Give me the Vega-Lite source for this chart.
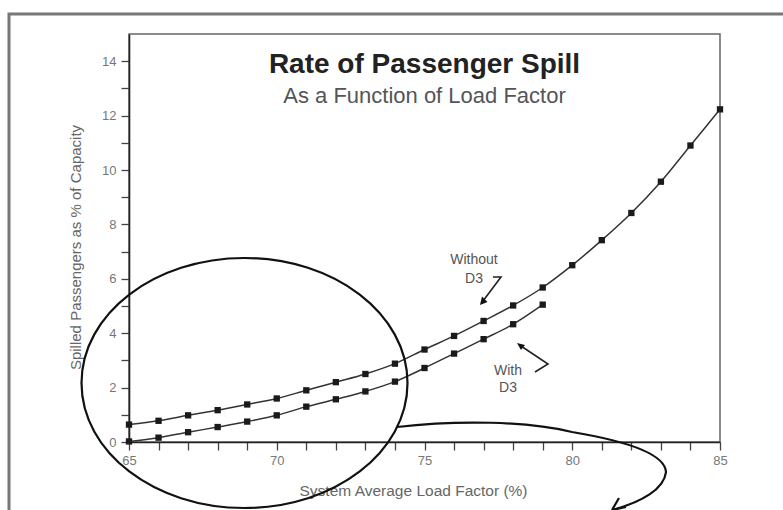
{
  "$schema": "https://vega.github.io/schema/vega-lite/v6.json",
  "width": 591,
  "height": 408,
  "autosize": {"type": "none"},
  "padding": {"left": 129, "top": 34, "right": 63, "bottom": 68},
  "background": "white",
  "config": {
    "view": {"stroke": "#666", "strokeWidth": 1.5},
    "font": "Liberation Sans"
  },
  "datasets": {
    "spill": [
      {"lf": 65, "pct": 0.64, "series": "Without D3"},
      {"lf": 66, "pct": 0.78, "series": "Without D3"},
      {"lf": 67, "pct": 0.98, "series": "Without D3"},
      {"lf": 68, "pct": 1.17, "series": "Without D3"},
      {"lf": 69, "pct": 1.38, "series": "Without D3"},
      {"lf": 70, "pct": 1.6, "series": "Without D3"},
      {"lf": 71, "pct": 1.9, "series": "Without D3"},
      {"lf": 72, "pct": 2.2, "series": "Without D3"},
      {"lf": 73, "pct": 2.5, "series": "Without D3"},
      {"lf": 74, "pct": 2.88, "series": "Without D3"},
      {"lf": 75, "pct": 3.4, "series": "Without D3"},
      {"lf": 76, "pct": 3.9, "series": "Without D3"},
      {"lf": 77, "pct": 4.45, "series": "Without D3"},
      {"lf": 78, "pct": 5.02, "series": "Without D3"},
      {"lf": 79, "pct": 5.68, "series": "Without D3"},
      {"lf": 80, "pct": 6.5, "series": "Without D3"},
      {"lf": 81, "pct": 7.42, "series": "Without D3"},
      {"lf": 82, "pct": 8.42, "series": "Without D3"},
      {"lf": 83, "pct": 9.57, "series": "Without D3"},
      {"lf": 84, "pct": 10.9, "series": "Without D3"},
      {"lf": 85, "pct": 12.23, "series": "Without D3"},
      {"lf": 65, "pct": 0.02, "series": "With D3"},
      {"lf": 66, "pct": 0.16, "series": "With D3"},
      {"lf": 67, "pct": 0.36, "series": "With D3"},
      {"lf": 68, "pct": 0.55, "series": "With D3"},
      {"lf": 69, "pct": 0.75, "series": "With D3"},
      {"lf": 70, "pct": 0.98, "series": "With D3"},
      {"lf": 71, "pct": 1.3, "series": "With D3"},
      {"lf": 72, "pct": 1.57, "series": "With D3"},
      {"lf": 73, "pct": 1.86, "series": "With D3"},
      {"lf": 74, "pct": 2.22, "series": "With D3"},
      {"lf": 75, "pct": 2.72, "series": "With D3"},
      {"lf": 76, "pct": 3.25, "series": "With D3"},
      {"lf": 77, "pct": 3.78, "series": "With D3"},
      {"lf": 78, "pct": 4.33, "series": "With D3"},
      {"lf": 79, "pct": 5.05, "series": "With D3"}
    ],
    "notes": [
      {"id": "frame", "lf": 65, "pct": 0},
      {"id": "ellipse", "lf": 68.909, "pct": 2.169},
      {"id": "loop", "lf": 74.069, "pct": 0.551},
      {"id": "arrowWithout", "lf": 76.878, "pct": 5.037},
      {"id": "arrowWith", "lf": 78.13, "pct": 3.64}
    ],
    "texts": [
      {"id": "title", "lf": 75, "pct": 13.55, "text": "Rate of Passenger Spill"},
      {"id": "subtitle", "lf": 75, "pct": 12.46, "text": "As a Function of Load Factor"},
      {"id": "label", "lf": 76.675, "pct": 6.544, "text": "Without"},
      {"id": "label", "lf": 76.675, "pct": 5.85, "text": "D3"},
      {"id": "label", "lf": 77.826, "pct": 2.463, "text": "With"},
      {"id": "label", "lf": 77.826, "pct": 1.84, "text": "D3"}
    ]
  },
  "encoding": {
    "x": {
      "field": "lf",
      "type": "quantitative",
      "scale": {"domain": [65, 85], "nice": false, "zero": false},
      "axis": {
        "values": [65, 66, 67, 68, 69, 70, 71, 72, 73, 74, 75, 76, 77, 78, 79, 80, 81, 82, 83, 84, 85],
        "labelExpr": "datum.value % 5 === 0 ? datum.label : ''",
        "labelFlush": false,
        "labelOverlap": false,
        "grid": false,
        "tickSize": 8,
        "tickWidth": 1.3,
        "tickColor": "#444",
        "domainColor": "#222",
        "domainWidth": 1.6,
        "labelColor": "#777",
        "labelFontSize": 13,
        "labelPadding": 4,
        "title": "System Average Load Factor (%)",
        "titleFontSize": 15.5,
        "titleFontWeight": "normal",
        "titleColor": "#666",
        "titleX": 284,
        "titleY": 48,
        "titleAlign": "center",
        "titleBaseline": "middle"
      }
    },
    "y": {
      "field": "pct",
      "type": "quantitative",
      "scale": {"domain": [0, 15], "nice": false},
      "axis": {
        "values": [0, 1, 2, 3, 4, 5, 6, 7, 8, 9, 10, 11, 12, 13, 14],
        "labelExpr": "datum.value % 2 === 0 ? datum.label : ''",
        "labelOverlap": false,
        "grid": false,
        "tickSize": 8,
        "tickWidth": 1.3,
        "tickColor": "#444",
        "domainColor": "#222",
        "domainWidth": 1.6,
        "labelColor": "#777",
        "labelFontSize": 13,
        "labelPadding": 5,
        "title": "Spilled Passengers as % of Capacity",
        "titleFontSize": 15,
        "titleFontWeight": "normal",
        "titleColor": "#666",
        "titleX": -54,
        "titleY": 213,
        "titleAlign": "center",
        "titleBaseline": "middle"
      }
    }
  },
  "layer": [
    {
      "data": {"name": "notes"},
      "transform": [{"filter": "datum.id === 'frame'"}],
      "mark": {"type": "point", "shape": "M -120 118 L -120 -428 L 671 -428", "size": 4, "filled": false, "stroke": "#777", "strokeWidth": 3, "opacity": 1}
    },
    {
      "data": {"name": "spill"},
      "mark": {"type": "line", "interpolate": "monotone", "color": "#333", "strokeWidth": 1.5},
      "encoding": {"detail": {"field": "series", "type": "nominal"}}
    },
    {
      "data": {"name": "spill"},
      "mark": {"type": "point", "shape": "square", "size": 40, "filled": true, "color": "#1a1a1a", "opacity": 1}
    },
    {
      "data": {"name": "notes"},
      "transform": [{"filter": "datum.id === 'ellipse'"}],
      "mark": {"type": "point", "shape": "M -163 0 A 163 125 0 1 1 163 0 A 163 125 0 1 1 -163 0 Z", "size": 4, "filled": false, "stroke": "#111", "strokeWidth": 2.2, "opacity": 1}
    },
    {
      "data": {"name": "notes"},
      "transform": [{"filter": "datum.id === 'loop'"}],
      "mark": {"type": "point", "shape": "M 0 0 C 60 -7 130 -6 175 5 C 235 15 268 28 269 45 C 267 62 245 75 215 83 M 215 83 L 229 80 M 215 83 L 222 71", "size": 4, "filled": false, "stroke": "#111", "strokeWidth": 2.2, "opacity": 1}
    },
    {
      "data": {"name": "notes"},
      "transform": [{"filter": "datum.id === 'arrowWithout'"}],
      "mark": {"type": "point", "shape": "M 13 -28 L 21 -28 L 3 -4", "size": 4, "filled": false, "stroke": "#222", "strokeWidth": 1.6, "opacity": 1}
    },
    {
      "data": {"name": "notes"},
      "transform": [{"filter": "datum.id === 'arrowWithout'"}],
      "mark": {"type": "point", "shape": "M 0 0 L 7.5 -3 L 2 -8.5 Z", "size": 4, "filled": true, "color": "#111", "opacity": 1}
    },
    {
      "data": {"name": "notes"},
      "transform": [{"filter": "datum.id === 'arrowWith'"}],
      "mark": {"type": "point", "shape": "M 18 29 L 31 21 L 4 3", "size": 4, "filled": false, "stroke": "#222", "strokeWidth": 1.6, "opacity": 1}
    },
    {
      "data": {"name": "notes"},
      "transform": [{"filter": "datum.id === 'arrowWith'"}],
      "mark": {"type": "point", "shape": "M 0 0 L 8 2 L 4 7 Z", "size": 4, "filled": true, "color": "#111", "opacity": 1}
    },
    {
      "data": {"name": "texts"},
      "transform": [{"filter": "datum.id === 'title'"}],
      "mark": {"type": "text", "font": "Liberation Sans", "fontWeight": "bold", "fontSize": 28, "color": "#222", "align": "center", "baseline": "alphabetic"},
      "encoding": {"text": {"field": "text", "type": "nominal"}}
    },
    {
      "data": {"name": "texts"},
      "transform": [{"filter": "datum.id === 'subtitle'"}],
      "mark": {"type": "text", "font": "Liberation Sans", "fontSize": 22, "color": "#555", "align": "center", "baseline": "alphabetic"},
      "encoding": {"text": {"field": "text", "type": "nominal"}}
    },
    {
      "data": {"name": "texts"},
      "transform": [{"filter": "datum.id === 'label'"}],
      "mark": {"type": "text", "font": "Liberation Sans", "fontSize": 14, "color": "#555", "align": "center", "baseline": "alphabetic"},
      "encoding": {"text": {"field": "text", "type": "nominal"}}
    }
  ]
}
